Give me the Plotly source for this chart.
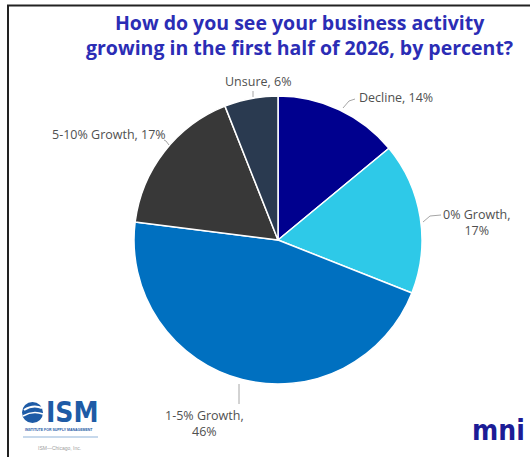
import plotly.graph_objects as go

# ---- data ----
categories = ["Decline", "0% Growth", "1-5% Growth", "5-10% Growth", "Unsure"]
values = [14, 17, 46, 17, 6]
colors = ["#00008E", "#2EC9E8", "#0070C0", "#383838", "#2A3A50"]
label_texts = ["Decline, 14%", "0% Growth,<br>17%", "1-5% Growth,<br>46%",
               "5-10% Growth, 17%", "Unsure, 6%"]
title_text = "How do you see your business activity<br>growing in the first half of 2026, by percent?"

W, H = 530, 457


def px(x):
    return x / W


def py(y):
    return 1 - y / H


# pie geometry (pixels)
CX, CY, R = 278, 240, 144

fig = go.Figure(go.Pie(
    labels=categories, values=values, sort=False, direction="clockwise",
    rotation=0, marker=dict(colors=colors, line=dict(color="white", width=1.5)),
    textinfo="none", hoverinfo="label+percent", showlegend=False,
    domain=dict(x=[px(CX - R), px(CX + R)], y=[py(CY + R), py(CY - R)]),
))

# label placement (pixels): x, y, xanchor, align
label_pos = [
    (357, 98, "left", "left"),
    (477, 222, "center", "center"),
    (204, 423, "center", "center"),
    (168, 134, "right", "left"),
    (258, 81, "center", "center"),
]
# leader lines (pixels)
leaders = [
    ((343, 108), (349, 101), (355, 99)),
    ((423, 222), (430, 216), (441, 215)),
    ((239, 384), (239, 394), (239, 404)),
    ((169, 145), (166, 141), (164, 140)),
    ((253, 97), (253, 94), (253, 91)),
]

annotations = []
for txt, (x, y, xa, al) in zip(label_texts, label_pos):
    annotations.append(dict(
        x=px(x), y=py(y), xref="paper", yref="paper", text=txt, showarrow=False,
        xanchor=xa, yanchor="middle", align=al,
        font=dict(family="Open Sans", size=12.5, color="#505050"),
    ))

annotations.append(dict(
    x=px(299), y=py(35), xref="paper", yref="paper", text="<b>" + title_text + "</b>",
    showarrow=False, xanchor="center", yanchor="middle", align="center",
    font=dict(family="Open Sans", size=19.5, color="#2B2DB5"),
))

# logos
annotations += [
    dict(x=px(72), y=py(412), xref="paper", yref="paper", text="<b>ISM</b>",
         showarrow=False, xanchor="center", yanchor="middle",
         font=dict(family="DejaVu Sans Condensed, Liberation Sans", size=28, color="#1E5BA6")),
    dict(x=px(59), y=py(430), xref="paper", yref="paper",
         text="<b>INSTITUTE FOR SUPPLY MANAGEMENT</b>",
         showarrow=False, xanchor="center", yanchor="middle",
         font=dict(family="Liberation Sans", size=3.5, color="#1E5BA6")),
    dict(x=px(59), y=py(448), xref="paper", yref="paper", text="ISM—Chicago, Inc.",
         showarrow=False, xanchor="center", yanchor="middle",
         font=dict(family="Liberation Sans", size=5, color="#A0A0A0")),
    dict(x=px(527), y=py(430), xref="paper", yref="paper", text="<b>mni</b>",
         showarrow=False, xanchor="right", yanchor="middle",
         font=dict(family="DejaVu Sans Condensed, DejaVu Sans", size=28, color="#1C1C96")),
]

shapes = []
for pts in leaders:
    path = "M " + " L ".join(f"{px(a)},{py(b)}" for a, b in pts)
    shapes.append(dict(type="path", xref="paper", yref="paper", path=path,
                       line=dict(color="#A6A6A6", width=1)))

# ISM globe mark
shapes.append(dict(type="circle", xref="paper", yref="paper",
                   x0=px(22), x1=px(43), y0=py(423), y1=py(402),
                   fillcolor="#1E5BA6", line=dict(width=0)))
shapes.append(dict(type="path", xref="paper", yref="paper",
                   path=f"M {px(24)},{py(410)} Q {px(33)},{py(404)} {px(42)},{py(408)}",
                   line=dict(color="white", width=2)))
shapes.append(dict(type="path", xref="paper", yref="paper",
                   path=f"M {px(23)},{py(416)} Q {px(33)},{py(410)} {px(43)},{py(414)}",
                   line=dict(color="white", width=1.5)))
shapes.append(dict(type="line", xref="paper", yref="paper",
                   x0=px(23), x1=px(98), y0=py(437), y1=py(437),
                   line=dict(color="#8FB3D9", width=1)))

# frame lines
shapes.append(dict(type="line", xref="paper", yref="paper",
                   x0=px(8), x1=px(8), y0=py(5), y1=py(457),
                   line=dict(color="#222222", width=2)))
shapes.append(dict(type="line", xref="paper", yref="paper",
                   x0=px(7), x1=px(530), y0=py(5.5), y1=py(5.5),
                   line=dict(color="#222222", width=2)))

fig.update_layout(
    width=W, height=H, margin=dict(l=0, r=0, t=0, b=0),
    paper_bgcolor="white", plot_bgcolor="white",
    annotations=annotations, shapes=shapes,
)

fig.write_html("out.html")
